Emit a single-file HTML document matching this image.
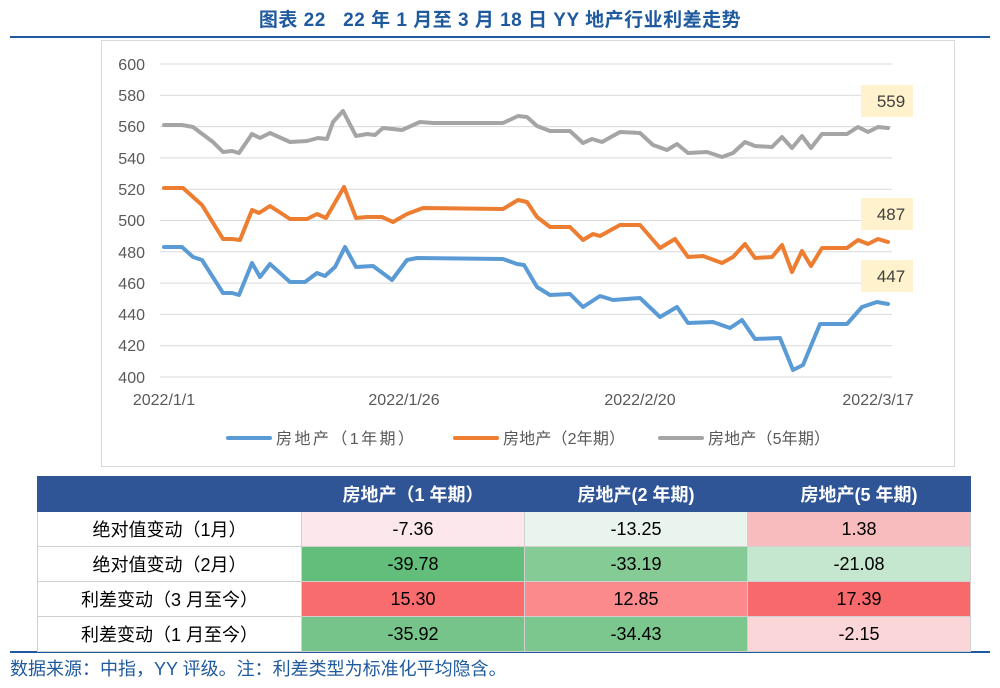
<!DOCTYPE html>
<html><head><meta charset="utf-8"><style>
body{margin:0;width:1000px;height:688px;background:#fff;font-family:"Liberation Sans","Noto Sans CJK SC",sans-serif;position:relative;overflow:hidden}
.t{position:absolute;left:0;width:1000px;top:5px;text-align:center;color:#1f5a9e;font-weight:bold;font-size:19px;letter-spacing:0.5px}
table{position:absolute;left:37px;top:476px;border-collapse:collapse;font-size:18px}
td,th{border:1px solid #d0d0d0;text-align:center;height:34px;padding:0}
th{background:#2f5597;color:#fff;font-weight:bold;border-color:#2f5597}
.src{position:absolute;left:10px;top:655px;color:#1f5a9e;font-size:18px}
</style></head><body>
<div class="t">图表 22&nbsp;&nbsp;&nbsp;22 年 1 月至 3 月 18 日 YY 地产行业利差走势</div>
<div style="position:absolute;left:10px;top:36px;width:980px;height:2px;background:#1f5a9e"></div>
<svg width="1000" height="688" style="position:absolute;left:0;top:0">
<rect x="101.5" y="40.5" width="853" height="426" fill="#fff" stroke="#d9d9d9"/>
<g stroke="#d9d9d9" stroke-width="1">
<line x1="160" x2="892" y1="64" y2="64"/><line x1="160" x2="892" y1="95.3" y2="95.3"/><line x1="160" x2="892" y1="126.6" y2="126.6"/><line x1="160" x2="892" y1="157.9" y2="157.9"/><line x1="160" x2="892" y1="189.2" y2="189.2"/><line x1="160" x2="892" y1="220.5" y2="220.5"/><line x1="160" x2="892" y1="251.8" y2="251.8"/><line x1="160" x2="892" y1="283.1" y2="283.1"/><line x1="160" x2="892" y1="314.4" y2="314.4"/><line x1="160" x2="892" y1="345.7" y2="345.7"/><line x1="160" x2="892" y1="377" y2="377"/>
</g>
<g font-size="16" fill="#595959" text-anchor="end">
<text x="145" y="70">600</text><text x="145" y="101">580</text><text x="145" y="132">560</text><text x="145" y="164">540</text><text x="145" y="195">520</text><text x="145" y="226">500</text><text x="145" y="258">480</text><text x="145" y="289">460</text><text x="145" y="320">440</text><text x="145" y="351">420</text><text x="145" y="383">400</text>
</g>
<g font-size="16" fill="#595959" text-anchor="middle">
<text x="164" y="405">2022/1/1</text><text x="404" y="405">2022/1/26</text><text x="640" y="405">2022/2/20</text><text x="878" y="405">2022/3/17</text>
</g>
<g fill="none" stroke-width="4" stroke-linejoin="round" stroke-linecap="round">
<polyline stroke="#a5a5a5" points="164,125 182,125 193,127 213,142 223,152 232,151 239,153 252,134 260,138 270,133 290,142 307,141 318,138 327,139 333,122 343,111 356,136 367,134 375,135 383,128 402,130 420,122 433,123 503,123 518,116 527,117 537,126 550,131 570,131 583,143 592,139 602,142 620,132 640,133 653,145 667,150 677,144 688,153 707,152 722,157 733,153 745,142 755,146 772,147 782,137 792,148 802,136 811,148 822,134 847,134 858,127 868,132 878,127 888,128"/>
<polyline stroke="#ed7d31" points="164,188 183,188 202,205 223,239 232,239 240,240 252,210 259,213 270,206 290,219 307,219 317,214 326,218 344,187 356,218 367,217 382,217 393,222 407,214 423,208 503,209 518,200 527,202 537,217 550,227 570,227 583,240 593,234 600,236 620,225 640,225 660,248 675,239 688,257 703,256 722,263 733,257 745,244 755,258 772,257 782,245 792,272 802,251 811,266 822,248 847,248 858,240 868,244 878,239 888,242"/>
<polyline stroke="#5b9bd5" points="164,247 182,247 193,257 202,260 223,293 232,293 239,295 252,263 260,277 270,264 290,282 305,282 317,273 325,276 335,267 345,247 356,267 373,266 392,280 407,260 417,258 503,259 517,264 524,265 537,287 550,295 570,294 583,307 600,296 613,300 640,298 660,317 677,307 688,323 713,322 730,328 742,320 755,339 780,338 793,370 803,365 820,324 847,324 862,307 877,302 888,304"/>
</g>
<g font-size="17" fill="#404040" text-anchor="middle">
<rect x="861" y="85" width="52" height="32" fill="#fff2cc"/><text x="891" y="107">559</text>
<rect x="861" y="198" width="52" height="32" fill="#fff2cc"/><text x="891" y="220">487</text>
<rect x="861" y="260" width="52" height="32" fill="#fff2cc"/><text x="891" y="282">447</text>
</g>
<g font-size="16" fill="#595959">
<line x1="228" x2="270" y1="438" y2="438" stroke="#5b9bd5" stroke-width="4" stroke-linecap="round"/><text x="276" y="444" textLength="138">房地产（1年期）</text>
<line x1="455" x2="497" y1="438" y2="438" stroke="#ed7d31" stroke-width="4" stroke-linecap="round"/><text x="503" y="444" textLength="122">房地产（2年期）</text>
<line x1="660" x2="702" y1="438" y2="438" stroke="#a5a5a5" stroke-width="4" stroke-linecap="round"/><text x="708" y="444" textLength="122">房地产（5年期）</text>
</g>
<line x1="10" x2="990" y1="652" y2="652" stroke="#1f5a9e" stroke-width="2"/>
</svg>
<table>
<tr><th style="width:263px;height:32px"></th><th style="width:222px">房地产（1 年期）</th><th style="width:222px">房地产(2 年期)</th><th style="width:222px">房地产(5 年期)</th></tr>
<tr><td>绝对值变动（1月）</td><td style="background:#fce8ec">-7.36</td><td style="background:#e9f4ee">-13.25</td><td style="background:#f9bcbe">1.38</td></tr>
<tr><td>绝对值变动（2月）</td><td style="background:#63be7b">-39.78</td><td style="background:#85cb95">-33.19</td><td style="background:#c6e7cf">-21.08</td></tr>
<tr><td>利差变动（3 月至今）</td><td style="background:#f96c6e">15.30</td><td style="background:#fa8a8c">12.85</td><td style="background:#f8696b">17.39</td></tr>
<tr><td>利差变动（1 月至今）</td><td style="background:#76c489">-35.92</td><td style="background:#7cc78e">-34.43</td><td style="background:#fbd6d9">-2.15</td></tr>
</table>
<div class="src">数据来源：中指，YY 评级。注：利差类型为标准化平均隐含。</div>
</body></html>
